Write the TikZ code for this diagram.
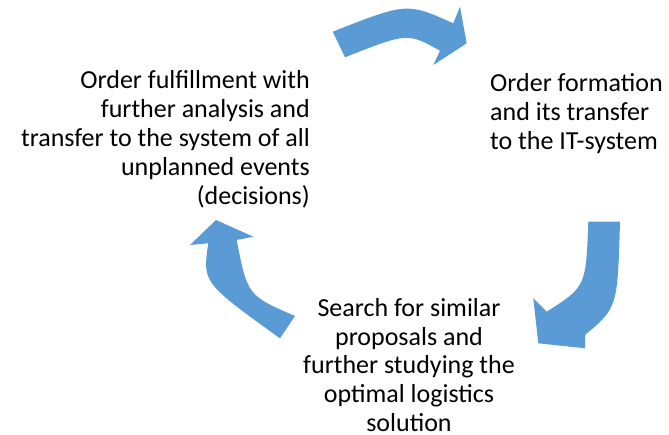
\documentclass[tikz,border=0pt]{standalone}
\usepackage{fontspec}
\setmainfont{Carlito}
\begin{document}
\begin{tikzpicture}[x=1pt,y=-1pt,
  cyc/.style={fill=cycblue,draw=none},
  lbl/.style={inner sep=0pt,font=\fontsize{26}{28.8}\selectfont,text=black}]
\definecolor{cycblue}{HTML}{5B9BD5}
\useasboundingbox (0,0) rectangle (669,434);
% arrows
\fill[cyc] (332.7,31.7) .. controls (407,2.5) .. (453.3,23.3) -- (460,6.7) -- (466.7,43.3)
  -- (433.3,65) -- (440,50.7) .. controls (407.5,32.6) .. (345,57.3) -- cycle;
\fill[cyc] (588.3,221.7) -- (620,221.7) .. controls (617.5,307.65) .. (585,335) -- (585,348.3)
  -- (538.3,343.3) -- (533.3,298.3) -- (546.7,311.7) .. controls (585.9,286.7) .. (588.3,221.7) -- cycle;
\fill[cyc] (280,338.3) -- (295,316) .. controls (247.5,295.4) .. (236.7,240) -- (253.3,236.7)
  -- (216,220) -- (190,245) -- (208.3,243.3) .. controls (202.5,282.6) .. (280,338.3) -- cycle;
% texts (base anchor = baseline of the last line)
\node[lbl,anchor=base east,align=right] (left) at (310,204)
  {Order fulfillment with\\further analysis and\\transfer to the system of all\\unplanned events\\(decisions)};
\node[lbl,anchor=base west,align=left] (right) at (490,149.5)
  {Order formation\\and its transfer\\to the IT-system};
\node[lbl,anchor=base,align=center] (bottom) at (409,431.5)
  {Search for similar\\proposals and\\further studying the\\optimal logistics\\solution};
\end{tikzpicture}
\end{document}
